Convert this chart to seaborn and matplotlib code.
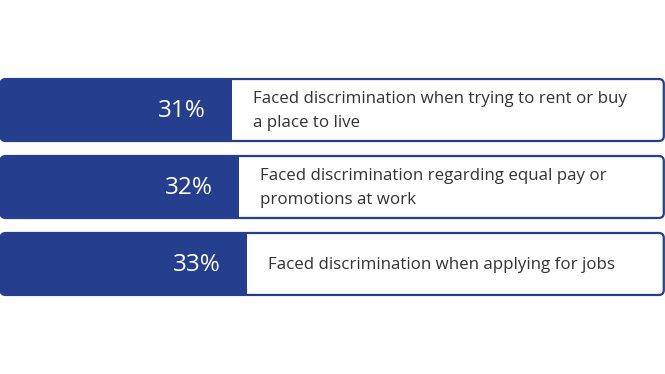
import matplotlib
matplotlib.use("Agg")
import matplotlib.pyplot as plt
import seaborn as sns
import pandas as pd
from matplotlib.patches import FancyBboxPatch

# data
percents = [31, 32, 33]
statements = [
    "Faced discrimination when trying to rent or buy\na place to live",
    "Faced discrimination regarding equal pay or\npromotions at work",
    "Faced discrimination when applying for jobs",
]

BLUE = "#253f8e"
X_MAX = 89.0

sns.set_theme(style="white")
plt.rcParams["font.family"] = ["Open Sans", "DejaVu Sans"]

df = pd.DataFrame({"pct": percents, "label": statements})

fig = plt.figure(figsize=(6.65, 3.74), dpi=100)
ax = fig.add_axes([0, 0, 1, 1])
sns.barplot(data=df, x="pct", y="label", color=BLUE, saturation=1,
            width=0.805, linewidth=0, ax=ax)

ax.set_xlim(0, X_MAX)
ax.set_ylim(3.429, -1.429)
ax.axis("off")

# px -> data scale helpers
px_x = X_MAX / 665
px_y = (3.429 + 1.429) / 374
r = 5 * px_x

for i, (bar, pct, text) in enumerate(zip(ax.patches, percents, statements)):
    y0 = bar.get_y()
    h = bar.get_height()
    box = FancyBboxPatch((0.6 * px_x, y0), X_MAX - 1.8 * px_x, h,
                         boxstyle=f"round,pad=0,rounding_size={r}",
                         mutation_aspect=px_y / px_x,
                         facecolor="none", edgecolor=BLUE, linewidth=1.6,
                         zorder=3)
    ax.add_patch(box)
    bar.set_clip_path(box)
    yc = y0 + h / 2
    ax.text(pct - 26 * px_x, yc + 1 * px_y, f"{pct}%", color="white", fontsize=17.5,
            ha="right", va="center")
    ax.text(pct + 21 * px_x, yc + 1 * px_y, text, color="#333333", fontsize=12.2,
            ha="left", va="center", linespacing=1.6)

fig.savefig("out.png", dpi=100)
